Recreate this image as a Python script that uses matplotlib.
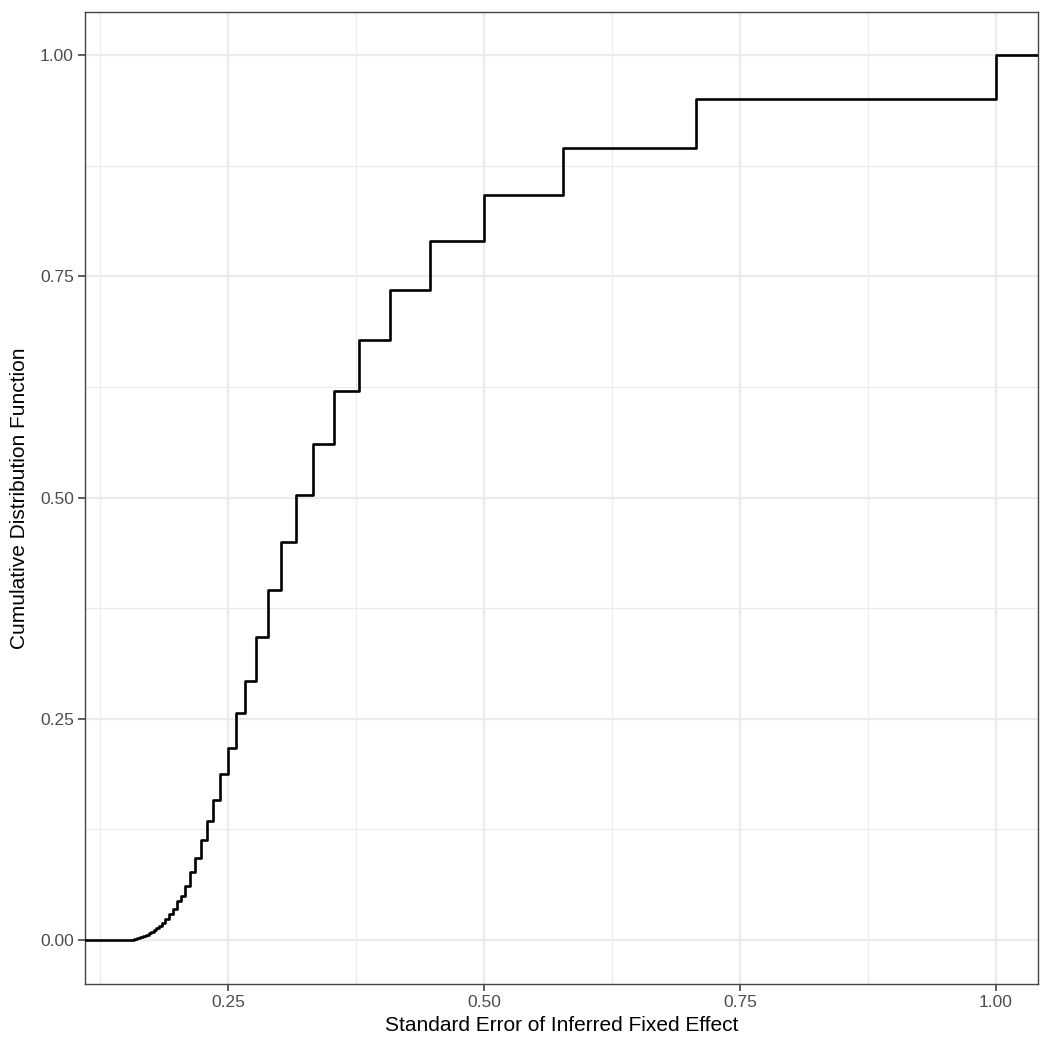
import matplotlib
matplotlib.use("Agg")
import numpy as np
from matplotlib import pyplot as plt

# jump locations (standard error) and cdf level after each jump
se_vals = [0.155, 0.158, 0.161, 0.164, 0.167, 0.170, 0.1725, 0.175, 0.1775,
           0.180, 0.1826, 0.1857, 0.189, 0.1925, 0.196, 0.200, 0.2041,
           0.2085, 0.2132, 0.2182, 0.2236, 0.2294, 0.2357, 0.2425, 0.250,
           0.258, 0.267, 0.277, 0.289, 0.302, 0.316, 0.333, 0.354, 0.378,
           0.408, 0.447, 0.500, 0.577, 0.707, 1.000]
cdf_vals = [0.0003, 0.0009, 0.0018, 0.0030, 0.0043, 0.0058, 0.0075, 0.0094,
            0.0113, 0.0132, 0.0158, 0.0189, 0.0237, 0.029, 0.035, 0.044,
            0.050, 0.061, 0.077, 0.093, 0.113, 0.134, 0.158, 0.188, 0.217,
            0.256, 0.293, 0.342, 0.395, 0.450, 0.503, 0.560, 0.620, 0.678,
            0.735, 0.790, 0.842, 0.895, 0.950, 1.000]

x_ticks = [0.25, 0.50, 0.75, 1.00]
y_ticks = [0.00, 0.25, 0.50, 0.75, 1.00]
xlim = (0.1104, 1.041)
ylim = (-0.0497, 1.0486)

plt.rcParams['font.family'] = ['Liberation Sans', 'DejaVu Sans']

fig = plt.figure(figsize=(10.5, 10.5), dpi=100)
ax = fig.add_axes([85/1050, 1 - 984/1050, (1038-85)/1050, (984-12)/1050])

# ecdf extends to the panel edges like stat_ecdf
xs = np.concatenate([[xlim[0]], se_vals, [xlim[1]]])
ys = np.concatenate([[0.0], cdf_vals, [cdf_vals[-1]]])
ax.step(xs, ys, where='post', color='black', lw=1.9, zorder=3)

ax.set_xlim(*xlim)
ax.set_ylim(*ylim)
ax.set_xticks(x_ticks)
ax.set_xticklabels(["%.2f" % v for v in x_ticks])
ax.set_yticks(y_ticks)
ax.set_yticklabels(["%.2f" % v for v in y_ticks])
ax.set_xticks([0.125, 0.375, 0.625, 0.875], minor=True)
ax.set_yticks([0.125, 0.375, 0.625, 0.875], minor=True)

ax.grid(True, which='major', color='#EBEBEB', lw=1.6, zorder=0)
ax.grid(True, which='minor', color='#EBEBEB', lw=0.8, zorder=0)
ax.set_axisbelow(True)

for s in ax.spines.values():
    s.set_color('#444444')
    s.set_linewidth(1.0)

ax.tick_params(which='major', length=5, width=1.1, color='#333333',
               labelsize=12.5, labelcolor='#4D4D4D', pad=3)
ax.tick_params(which='minor', length=0)

ax.set_xlabel("Standard Error of Inferred Fixed Effect", fontsize=15, labelpad=4)
ax.set_ylabel("Cumulative Distribution Function", fontsize=15, labelpad=8)

fig.savefig("out.png", dpi=100)
